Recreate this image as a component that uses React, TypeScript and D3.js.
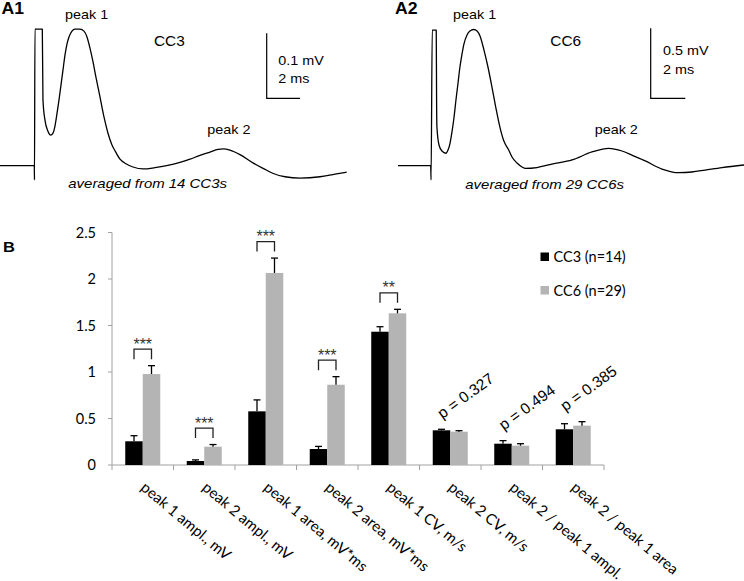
import React from "react";
import * as d3 from "d3";

// ---------- Panel A traces (time in ms from stimulus, voltage in mV) ----------
const cc3Time = [-2.06, 0, 0.01, 0.04, 0.48, 0.52, 0.64, 0.82, 0.98, 1.12, 1.24, 1.36, 1.48, 1.6, 1.72, 1.84, 1.96, 2.08, 2.26, 2.44, 2.74, 2.98, 3.16, 3.34, 3.52, 3.7, 3.94, 4.18, 4.42, 4.66, 4.84, 5.14, 5.5, 5.92, 6.54, 7.24, 7.94, 8.74, 9.34, 9.94, 10.54, 11.02, 11.34, 11.74, 12.34, 13.14, 13.72, 14.34, 15.04, 15.94, 17.14, 18.04, 18.74];
const cc3Volt = [0, 0, -0.022, 0.21, 0.21, 0.101, 0.07, 0.053, 0.047, 0.05, 0.061, 0.08, 0.101, 0.124, 0.147, 0.17, 0.187, 0.198, 0.207, 0.21, 0.21, 0.207, 0.198, 0.181, 0.16, 0.136, 0.106, 0.075, 0.05, 0.032, 0.023, 0.01, 0.003, -0.002, -0.005, -0.003, 0, 0.005, 0.01, 0.016, 0.021, 0.025, 0.026, 0.024, 0.017, 0.004, -0.004, -0.012, -0.017, -0.019, -0.017, -0.013, -0.01];

const cc6Time = [-1.89, 0, 0.02, 0.09, 0.32, 0.34, 0.36, 0.48, 0.65, 0.88, 1.0, 1.12, 1.23, 1.35, 1.46, 1.58, 1.69, 1.81, 1.92, 2.1, 2.27, 2.49, 2.68, 2.85, 3.08, 3.31, 3.54, 3.77, 4.0, 4.23, 4.51, 4.7, 4.99, 5.28, 5.47, 6.14, 7.01, 8.17, 9.32, 10.29, 11.06, 11.75, 12.4, 13.37, 14.34, 15.1, 15.87, 16.84, 18.11];
const cc6Volt = [0, 0, -0.102, 0.969, 0.969, 0.469, 0.276, 0.148, 0.105, 0.089, 0.112, 0.162, 0.241, 0.348, 0.469, 0.591, 0.705, 0.798, 0.869, 0.934, 0.962, 0.973, 0.962, 0.926, 0.826, 0.705, 0.562, 0.412, 0.276, 0.176, 0.112, 0.062, 0.019, -0.009, -0.019, -0.013, 0.012, 0.041, 0.098, 0.124, 0.105, 0.069, 0.034, -0.024, -0.05, -0.045, -0.031, -0.013, 0.005];

// ---------- Panel B bar chart ----------
const categories = [
  "peak 1 ampl., mV",
  "peak 2 ampl., mV",
  "peak 1 area, mV*ms",
  "peak 2 area, mV*ms",
  "peak 1 CV, m/s",
  "peak 2 CV, m/s",
  "peak 2 / peak 1 ampl.",
  "peak 2 / peak 1 area",
];
const seriesNames = ["CC3 (n=14)", "CC6 (n=29)"];
const cc3Mean = [0.255, 0.043, 0.577, 0.172, 1.433, 0.373, 0.229, 0.384];
const cc3Sem = [0.06, 0.012, 0.123, 0.028, 0.054, 0.011, 0.033, 0.06];
const cc6Mean = [0.978, 0.197, 2.065, 0.863, 1.631, 0.358, 0.208, 0.423];
const cc6Sem = [0.09, 0.023, 0.16, 0.087, 0.043, 0.011, 0.021, 0.043];
const significance = ["***", "***", "***", "***", "**", "p = 0.327", "p = 0.494", "p = 0.385"];
const yTicks = [0, 0.5, 1, 1.5, 2, 2.5];

const W = 744;
const H = 581;
const SANS = "'Liberation Sans', Arial, sans-serif";
const CAL = "Lato, 'Open Sans', sans-serif";
const BAR_COLORS = ["#000000", "#b4b4b4"];

function Stretch({ x, y, size, children, italic = false, bold = false, sx = 1.15 }: any) {
  return (
    <text
      transform={`translate(${x},${y}) scale(${sx},1)`}
      fontFamily={SANS}
      fontSize={size}
      fontStyle={italic ? "italic" : "normal"}
      fontWeight={bold ? "bold" : "normal"}
      fill="#000"
    >
      {children}
    </text>
  );
}

function TracePanel({ time, volt, xs, ys, scaleV, corner, labels }: any) {
  const pts = time.map((t: number, i: number) => [t, volt[i]] as [number, number]);
  const line = d3
    .line<[number, number]>()
    .x((d) => xs(d[0]))
    .y((d) => ys(d[1]))
    .curve(d3.curveMonotoneX);
  const barV = ys(0) - ys(scaleV);
  const barT = xs(2) - xs(0);
  return (
    <g>
      <path d={line(pts) || ""} fill="none" stroke="#000" strokeWidth={1.3} strokeLinejoin="round" />
      <path
        d={`M${corner[0]},${corner[1] - barV}V${corner[1]}H${corner[0] + barT}`}
        fill="none"
        stroke="#000"
        strokeWidth={1.2}
      />
      {labels}
    </g>
  );
}

export default function App() {
  // Panel A scales
  const xA1 = d3.scaleLinear().domain([0, 1]).range([34.3, 34.3 + 16.67]);
  const yA1 = d3.scaleLinear().domain([0, 0.1]).range([165.7, 165.7 - 65]);
  const xA2 = d3.scaleLinear().domain([0, 1]).range([430.7, 430.7 + 17.3]);
  const yA2 = d3.scaleLinear().domain([0, 0.5]).range([165.7, 165.7 - 70]);

  // Panel B scales
  const left = 112;
  const right = 604;
  const y0 = 465;
  const yB = d3.scaleLinear().domain([0, 2.5]).range([y0, 232.5]);
  const xB = d3.scaleBand().domain(categories).range([left, right]).padding(0);
  const xSub = d3
    .scaleBand()
    .domain(seriesNames)
    .range([0, xB.bandwidth()])
    .paddingInner(0)
    .paddingOuter(0.757);
  const bw = xSub.bandwidth();
  const means = [cc3Mean, cc6Mean];
  const sems = [cc3Sem, cc6Sem];
  const boundaries = d3.range(categories.length + 1).map((i) => left + i * xB.step());

  return (
    <svg
      width={W}
      height={H}
      viewBox={`0 0 ${W} ${H}`}
      style={{ position: "absolute", left: 0, top: 0, display: "block", background: "#fff" }}
    >
      <rect x={0} y={0} width={W} height={H} fill="#fff" />

      {/* Panel A1 */}
      <TracePanel
        time={cc3Time}
        volt={cc3Volt}
        xs={xA1}
        ys={yA1}
        scaleV={0.1}
        corner={[266.7, 98.3]}
        labels={
          <g>
            <Stretch x={1.5} y={13.5} size={16} bold sx={1.1}>A1</Stretch>
            <Stretch x={65} y={19} size={12.5}>peak 1</Stretch>
            <Stretch x={154} y={46} size={14} sx={1.1}>CC3</Stretch>
            <Stretch x={278.3} y={65} size={12.5}>0.1 mV</Stretch>
            <Stretch x={278.3} y={82.7} size={12.5}>2 ms</Stretch>
            <Stretch x={207.3} y={134} size={12.5}>peak 2</Stretch>
            <Stretch x={68.3} y={188.3} size={13} italic>averaged from 14 CC3s</Stretch>
          </g>
        }
      />

      {/* Panel A2 */}
      <TracePanel
        time={cc6Time}
        volt={cc6Volt}
        xs={xA2}
        ys={yA2}
        scaleV={0.5}
        corner={[650.7, 98.3]}
        labels={
          <g>
            <Stretch x={395} y={13.5} size={16} bold sx={1.1}>A2</Stretch>
            <Stretch x={453} y={19} size={12.5}>peak 1</Stretch>
            <Stretch x={550.3} y={46} size={14} sx={1.1}>CC6</Stretch>
            <Stretch x={663} y={55} size={12.5}>0.5 mV</Stretch>
            <Stretch x={663} y={74} size={12.5}>2 ms</Stretch>
            <Stretch x={594.7} y={134} size={12.5}>peak 2</Stretch>
            <Stretch x={465.3} y={189.3} size={13} italic>averaged from 29 CC6s</Stretch>
          </g>
        }
      />

      {/* Panel B */}
      <Stretch x={3} y={251.7} size={15} bold sx={1.1}>B</Stretch>

      {/* y axis */}
      <line x1={left} x2={left} y1={yB(2.5)} y2={y0} stroke="#a0a0a0" strokeWidth={1} />
      {yTicks.map((t) => (
        <g key={"yt" + t}>
          <line x1={left - 4} x2={left} y1={yB(t)} y2={yB(t)} stroke="#a0a0a0" strokeWidth={1} />
          <text
            x={96}
            y={yB(t)}
            dy="0.36em"
            textAnchor="end"
            fontFamily={CAL}
            fontSize={14.5}
            fill="#000"
          >
            {d3.format("~g")(t)}
          </text>
        </g>
      ))}

      {/* x axis */}
      <line x1={left} x2={right} y1={y0} y2={y0} stroke="#a0a0a0" strokeWidth={1} />
      {boundaries.map((bx, i) => (
        <line key={"xt" + i} x1={bx} x2={bx} y1={y0} y2={y0 + 5} stroke="#a0a0a0" strokeWidth={1} />
      ))}

      {/* bars */}
      {categories.map((c, ci) => (
        <g key={"cat" + ci}>
          {seriesNames.map((s, si) => {
            const x = (xB(c) || 0) + (xSub(s) || 0);
            const m = means[si][ci];
            const top = yB(m);
            const eTop = yB(m + sems[si][ci]);
            const cx = x + bw / 2;
            return (
              <g key={s}>
                <rect x={x} y={top} width={bw} height={y0 - top} fill={BAR_COLORS[si]} />
                <line x1={cx} x2={cx} y1={top} y2={eTop} stroke="#000" strokeWidth={1.3} />
                <line x1={cx - 3.5} x2={cx + 3.5} y1={eTop} y2={eTop} stroke="#000" strokeWidth={1.3} />
              </g>
            );
          })}
        </g>
      ))}

      {/* significance */}
      {categories.map((c, ci) => {
        const maxTop = Math.min(
          yB(cc3Mean[ci] + cc3Sem[ci]),
          yB(cc6Mean[ci] + cc6Sem[ci])
        );
        const center = (xB(c) || 0) + xB.bandwidth() / 2;
        const label = significance[ci];
        if (label.startsWith("p")) {
          return (
            <text
              key={"sig" + ci}
              transform={`translate(${center - 8},${maxTop - 10}) rotate(-36)`}
              fontFamily={SANS}
              fontSize={15.5}
              fill="#000"
            >
              {label}
            </text>
          );
        }
        const xa = (xB(c) || 0) + (xSub(seriesNames[0]) || 0) + bw / 2;
        const xb = (xB(c) || 0) + (xSub(seriesNames[1]) || 0) + bw / 2;
        const legBottom = maxTop - 6.5;
        const brTop = legBottom - 10;
        return (
          <g key={"sig" + ci}>
            <path
              d={`M${xa},${legBottom}V${brTop}H${xb}V${legBottom}`}
              fill="none"
              stroke="#222"
              strokeWidth={1.3}
            />
            <text
              x={center}
              y={brTop + 0.5}
              textAnchor="middle"
              fontFamily={SANS}
              fontSize={16}
              fill="#333"
            >
              {label}
            </text>
          </g>
        );
      })}

      {/* x labels */}
      {categories.map((c, ci) => {
        const center = (xB(c) || 0) + xB.bandwidth() / 2;
        return (
          <text
            key={"xl" + ci}
            transform={`translate(${center - 3},${489}) rotate(40)`}
            fontFamily={CAL}
            fontSize={15}
            fill="#000"
          >
            {c}
          </text>
        );
      })}

      {/* legend */}
      {seriesNames.map((s, si) => (
        <g key={"lg" + s} transform={`translate(540.5,${252.5 + si * 33.5})`}>
          <rect x={0} y={0} width={8.5} height={8.5} fill={BAR_COLORS[si]} />
          <text x={13} y={9.5} fontFamily={CAL} fontSize={14.5} fill="#000">
            {s}
          </text>
        </g>
      ))}
    </svg>
  );
}
